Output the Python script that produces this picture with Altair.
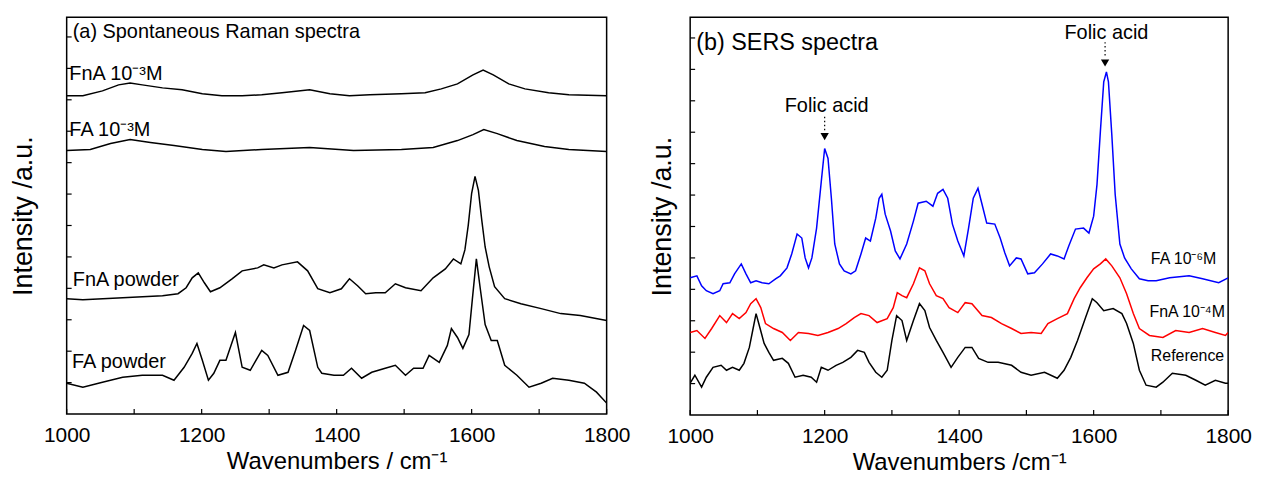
import altair as alt
import pandas as pd

FONT = "Liberation Sans, Arial, Helvetica, sans-serif"

# ---------------- (a) Spontaneous Raman spectra ----------------
fnA_sol_wn = [1000, 1024, 1053, 1077, 1094, 1112, 1142, 1171, 1201, 1230, 1260, 1289, 1319, 1360, 1390,
              1419, 1449, 1496, 1531, 1555, 1579, 1602, 1617, 1632, 1655, 1679, 1714, 1744, 1800]
fnA_sol_I = [320, 320, 325, 331, 333, 331, 328, 326, 322, 320, 320, 321, 323, 326, 322,
             320, 321, 322, 323, 327, 332, 341, 346, 341, 332, 327, 323, 321, 320]

fa_sol_wn = [1000, 1035, 1065, 1094, 1124, 1159, 1201, 1236, 1289, 1360, 1425, 1496, 1543, 1579, 1602,
             1618, 1638, 1667, 1708, 1744, 1800]
fa_sol_I = [265, 266, 272, 276, 273, 270, 266, 264, 266, 268, 265, 266, 268, 275, 281,
            286, 282, 275, 269, 266, 264]

fnA_pow_wn = [1000, 1024, 1083, 1142, 1165, 1177, 1186, 1195, 1204, 1213, 1227, 1245, 1260, 1283, 1292,
              1307, 1319, 1342, 1357, 1372, 1390, 1407, 1419, 1431, 1443, 1458, 1472, 1487, 1502, 1525,
              1543, 1561, 1573, 1584, 1590, 1595, 1600, 1605, 1610, 1615, 1620, 1626, 1634, 1649, 1673,
              1703, 1732, 1761, 1800]
fnA_pow_I = [116, 115, 117, 119, 121, 127, 137, 142, 132, 123, 127, 136, 144, 147, 150,
             147, 150, 153, 144, 126, 122, 126, 136, 129, 121, 122, 122, 131, 127, 124,
             137, 146, 156, 151, 165, 190, 222, 239, 225, 195, 168, 148, 128, 116, 111,
             106, 101, 99, 94]

fa_pow_wn = [1000, 1024, 1053, 1083, 1112, 1142, 1159, 1174, 1186, 1193, 1201, 1210, 1218, 1227, 1236,
             1250, 1260, 1272, 1289, 1298, 1313, 1328, 1339, 1351, 1360, 1372, 1378, 1396, 1410, 1422,
             1437, 1452, 1472, 1487, 1502, 1514, 1528, 1537, 1552, 1564, 1570, 1579, 1587, 1596, 1601,
             1607, 1613, 1620, 1629, 1638, 1649, 1667, 1685, 1703, 1720, 1744, 1767, 1785, 1800]
fa_pow_I = [31, 27, 32, 37, 39, 39, 34, 47, 61, 71, 54, 34, 41, 54, 54,
            82, 47, 44, 64, 59, 39, 42, 64, 89, 84, 47, 41, 39, 39, 46,
            36, 42, 46, 49, 39, 46, 46, 59, 52, 69, 86, 77, 66, 80, 115,
            156, 125, 90, 74, 74, 49, 39, 27, 31, 36, 34, 31, 22, 11]

a_title = "(a) Spontaneous Raman spectra"
a_title_pos = (1009, 384)
a_labels = ["FnA 10\u207b\u00b3M", "FA 10\u207b\u00b3M", "FnA powder", "FA powder"]
a_label_wn = [1004, 1004, 1009, 1008]
a_label_I = [342, 286, 135, 52]

# ---------------- (b) SERS spectra ----------------
fa6_wn = [1000, 1010, 1017, 1024, 1034, 1044, 1049, 1059, 1066, 1076, 1083, 1090, 1098, 1107, 1117,
          1127, 1134, 1144, 1151, 1159, 1166, 1171, 1176, 1181, 1188, 1195, 1200, 1205, 1210, 1215,
          1222, 1229, 1239, 1246, 1254, 1261, 1268, 1276, 1281, 1285, 1290, 1298, 1305, 1312, 1322,
          1332, 1339, 1351, 1361, 1368, 1376, 1383, 1390, 1398, 1407, 1414, 1421, 1428, 1434, 1441,
          1453, 1461, 1468, 1475, 1485, 1492, 1502, 1512, 1524, 1536, 1546, 1556, 1563, 1573, 1585,
          1593, 1600, 1605, 1610, 1615, 1619, 1622, 1627, 1632, 1639, 1646, 1656, 1668, 1681, 1693,
          1713, 1742, 1762, 1786, 1800]
fa6_I = [138, 140, 130, 125, 122, 125, 132, 133, 142, 152, 142, 133, 135, 133, 132,
         137, 140, 148, 162, 182, 178, 158, 148, 158, 188, 235, 268, 258, 218, 172,
         152, 145, 142, 145, 162, 178, 175, 198, 218, 222, 202, 185, 165, 157, 172,
         195, 213, 215, 210, 223, 227, 218, 192, 175, 160, 188, 218, 228, 212, 193,
         192, 178, 163, 150, 158, 157, 142, 143, 152, 162, 160, 157, 170, 187, 188,
         183, 200, 232, 285, 335, 345, 335, 282, 222, 172, 158, 147, 137, 135, 135,
         138, 140, 137, 133, 138]

fnA4_wn = [1000, 1010, 1022, 1032, 1044, 1054, 1063, 1073, 1083, 1090, 1098, 1105, 1112, 1124, 1137,
           1149, 1161, 1176, 1190, 1205, 1220, 1232, 1244, 1254, 1266, 1278, 1293, 1302, 1308, 1315,
           1322, 1332, 1341, 1349, 1356, 1366, 1376, 1385, 1398, 1409, 1419, 1434, 1448, 1463, 1478,
           1492, 1507, 1522, 1532, 1546, 1561, 1571, 1580, 1590, 1600, 1610, 1618, 1627, 1639, 1649,
           1659, 1668, 1683, 1703, 1722, 1742, 1762, 1781, 1796, 1800]
fnA4_I = [83, 85, 77, 87, 100, 93, 102, 97, 103, 112, 117, 108, 92, 87, 83,
          75, 83, 82, 80, 83, 87, 92, 98, 102, 100, 93, 97, 108, 123, 120,
          118, 132, 148, 145, 132, 120, 117, 108, 103, 113, 112, 100, 98, 92, 87,
          82, 83, 82, 92, 97, 102, 117, 128, 138, 147, 152, 157, 150, 138, 122,
          102, 87, 80, 78, 85, 83, 87, 83, 80, 83]

ref_wn = [1000, 1007, 1017, 1024, 1034, 1046, 1054, 1063, 1073, 1080, 1088, 1093, 1098, 1102, 1110,
          1117, 1124, 1137, 1146, 1156, 1168, 1180, 1188, 1195, 1205, 1217, 1227, 1239, 1249, 1259,
          1266, 1276, 1285, 1293, 1300, 1307, 1315, 1322, 1332, 1341, 1349, 1356, 1366, 1376, 1388,
          1398, 1409, 1419, 1429, 1443, 1458, 1478, 1492, 1507, 1527, 1546, 1556, 1566, 1576, 1588,
          1598, 1605, 1615, 1629, 1642, 1649, 1659, 1668, 1678, 1693, 1703, 1717, 1737, 1752, 1766,
          1781, 1796, 1800]
ref_I = [32, 40, 28, 38, 48, 50, 45, 48, 45, 52, 68, 85, 102, 92, 72,
         63, 55, 57, 52, 38, 40, 38, 33, 48, 45, 50, 53, 58, 65, 63,
         53, 43, 38, 45, 75, 100, 95, 75, 95, 112, 105, 88, 75, 63, 48,
         58, 68, 68, 57, 53, 53, 50, 43, 40, 43, 37, 45, 58, 75, 98,
         117, 113, 105, 107, 102, 92, 72, 45, 30, 28, 33, 42, 40, 35, 30,
         35, 32, 32]

b_title = "(b) SERS spectra"
b_title_pos = (1009, 374)
b_labels = ["FA 10\u207b\u2076M", "FnA 10\u207b\u2074M", "Reference"]
b_label_wn = [1685, 1683, 1685]
b_label_I = [157, 104, 59]

folic_text = ["Folic acid", "Folic acid"]
folic_wn = [1203, 1619]
folic_I = [311, 384]
arrow_wn = [1200, 1617]
arrow_top = [300, 375]
arrow_bot = [285, 360]
arrow_head = [280, 354]

x_ticks = [1000, 1100, 1200, 1300, 1400, 1500, 1600, 1700, 1800]
x_labels = [1000, 1200, 1400, 1600, 1800]


def panel(series, colors, W, H, ymax, xtitle, ytitle_pad, title_text, title_pos, title_size,
          lab_text, lab_wn, lab_I, lab_size, extra=None):
    xenc = alt.X("wn:Q", scale=alt.Scale(domain=[1000, 1800], nice=False, zero=False),
                 axis=alt.Axis(values=x_labels, title=xtitle, format="d", labelFontSize=21,
                               titleFontSize=24, ticks=False, tickSize=0, domain=False, grid=False,
                               labelPadding=11, titlePadding=4, labelFlush=False))
    yenc = alt.Y("I:Q", scale=alt.Scale(domain=[0, ymax], nice=False, zero=False),
                 axis=alt.Axis(title="Intensity /a.u.", labels=False, ticks=False, tickSize=0,
                               domain=False, grid=False, titleFontSize=27,
                               titlePadding=ytitle_pad, minExtent=0))
    layers = []
    for (wn, I), c in zip(series, colors):
        layers.append(alt.Chart(pd.DataFrame({"wn": wn, "I": I})).mark_line(
            strokeWidth=1.5, clip=True, color=c).encode(x=xenc, y=yenc))
    xt = alt.Chart(pd.DataFrame({"wn": x_ticks})).mark_rule(color="black", strokeWidth=1.2).encode(
        x=xenc, y=alt.value(H), y2=alt.value(H - 5))
    yt_vals = [round(31.6 * k, 1) for k in range(1, int(ymax / 31.6) + 1)]
    yt = alt.Chart(pd.DataFrame({"I": yt_vals})).mark_rule(color="black", strokeWidth=1.2).encode(
        y=yenc, x=alt.value(0), x2=alt.value(5))
    ttl = alt.Chart(pd.DataFrame({"wn": [title_pos[0]], "I": [title_pos[1]], "t": [title_text]})).mark_text(
        align="left", baseline="middle", font=FONT, fontSize=title_size, color="black").encode(
        x=xenc, y=yenc, text="t:N")
    labs = alt.Chart(pd.DataFrame({"wn": lab_wn, "I": lab_I, "t": lab_text})).mark_text(
        align="left", baseline="middle", font=FONT, fontSize=lab_size, color="black").encode(
        x=xenc, y=yenc, text="t:N")
    layers += [xt, yt, ttl, labs]
    if extra is not None:
        layers += extra(xenc, yenc)
    return alt.layer(*layers).properties(width=W, height=H)


def folic(xenc, yenc):
    t = alt.Chart(pd.DataFrame({"wn": folic_wn, "I": folic_I, "t": folic_text})).mark_text(
        align="center", baseline="middle", font=FONT, fontSize=20, color="black").encode(
        x=xenc, y=yenc, text="t:N")
    r = alt.Chart(pd.DataFrame({"wn": arrow_wn, "I": arrow_top, "I2": arrow_bot})).mark_rule(
        color="black", strokeWidth=1.2, strokeDash=[1.5, 2.5]).encode(
        x=xenc, y=yenc, y2="I2:Q")
    h = alt.Chart(pd.DataFrame({"wn": arrow_wn, "I": arrow_head})).mark_point(
        shape="triangle-down", filled=True, size=70, color="black", opacity=1).encode(
        x=xenc, y=yenc)
    return [t, r, h]


left = panel(
    [(fnA_sol_wn, fnA_sol_I), (fa_sol_wn, fa_sol_I), (fnA_pow_wn, fnA_pow_I), (fa_pow_wn, fa_pow_I)],
    ["black", "black", "black", "black"],
    543, 399, 399, "Wavenumbers / cm\u207b\u00b9", 29,
    a_title, a_title_pos, 20, a_labels, a_label_wn, a_label_I, 20)

right = panel(
    [(fa6_wn, fa6_I), (fnA4_wn, fnA4_I), (ref_wn, ref_I)],
    ["#0000ff", "#ff0000", "black"],
    541, 400, 400, "Wavenumbers /cm\u207b\u00b9", 14,
    b_title, b_title_pos, 23.5, b_labels, b_label_wn, b_label_I, 16, extra=folic)

chart = alt.hconcat(left, right, spacing=16).properties(
    padding={"left": 1, "top": 7, "right": 0, "bottom": 0}
).configure_view(stroke="black", strokeWidth=1.5).configure_axis(
    labelFont=FONT, titleFont=FONT, labelColor="black", titleColor="black",
    titleFontWeight="normal")

chart.save("out.html", embed_options={"renderer": "svg", "actions": False})
